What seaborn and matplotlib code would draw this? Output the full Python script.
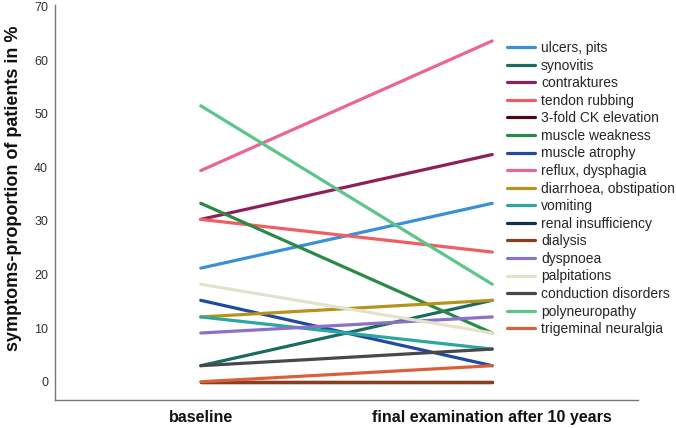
import pandas as pd
import matplotlib
matplotlib.use('Agg')
import matplotlib.pyplot as plt
import seaborn as sns

# time points
timepoints = ['baseline', 'final examination after 10 years']

# symptom names (legend order)
symptoms = ['ulcers, pits', 'synovitis', 'contraktures', 'tendon rubbing',
            '3-fold CK elevation', 'muscle weakness', 'muscle atrophy',
            'reflux, dysphagia', 'diarrhoea, obstipation', 'vomiting',
            'renal insufficiency', 'dialysis', 'dyspnoea', 'palpitations',
            'conduction disorders', 'polyneuropathy', 'trigeminal neuralgia']

# proportion of patients in % (baseline / final)
baseline = [21.2, 3.0, 30.3, 30.3, 0.0, 33.3, 15.2, 39.4, 12.1, 12.1,
            0.0, 0.0, 9.1, 18.2, 3.0, 51.5, 0.0]
final = [33.3, 15.2, 42.4, 24.2, 0.0, 9.1, 3.0, 63.6, 15.2, 6.1,
         0.0, 0.0, 12.1, 9.1, 6.1, 18.2, 3.0]

colors = ['#3a8fd9', '#1a6b62', '#8e1f5a', '#ee5e63', '#4a0a14', '#2a8a44',
          '#1f4aa0', '#eb6497', '#b8921e', '#2aa8a0', '#13304f', '#8a3f1a',
          '#8a72c8', '#e5e2cc', '#45484c', '#5cc58a', '#d9603c']

rows = []
for s, b, f in zip(symptoms, baseline, final):
    rows.append({'time': timepoints[0], 'symptom': s, 'value': b})
    rows.append({'time': timepoints[1], 'symptom': s, 'value': f})
df = pd.DataFrame(rows)

sns.set_style('white')
plt.rcParams['font.family'] = ['Liberation Sans', 'DejaVu Sans']

fig = plt.figure(figsize=(6.76, 4.28), dpi=100)
ax = fig.add_axes([55 / 676, 1 - 400 / 428, 583 / 676, 395 / 428])

sns.lineplot(data=df, x='time', y='value', hue='symptom', hue_order=symptoms,
             palette=dict(zip(symptoms, colors)), sort=False, lw=2.3, ax=ax)

ax.set_xlim(-0.5, 1.5)
ax.set_ylim(-3.4, 70.3)
ax.set_yticks(range(0, 71, 10))
ax.set_xlabel('')
ax.set_ylabel('symptoms-proportion of patients in %', fontsize=13,
              fontweight='bold', color='#111111')
ax.yaxis.set_label_coords(-0.056, 0.535)
ax.tick_params(axis='y', labelsize=9, labelcolor='#333333', length=0, pad=5)
ax.tick_params(axis='x', labelsize=11.5, labelcolor='#111111', length=0, pad=7)
for lbl in ax.get_xticklabels():
    lbl.set_fontweight('bold')

for side in ['top', 'right']:
    ax.spines[side].set_visible(False)
for side in ['left', 'bottom']:
    ax.spines[side].set_color('#777777')
    ax.spines[side].set_linewidth(1)

handles, labels = ax.get_legend_handles_labels()
ax.legend(handles, labels, loc='upper left', bbox_to_anchor=(507 / 676, 1 - 41 / 428),
          bbox_transform=fig.transFigure, frameon=False, fontsize=10,
          handlelength=2.0, handletextpad=0.45, labelspacing=0.257,
          borderaxespad=0, borderpad=0)

fig.savefig('out.png', dpi=100)
